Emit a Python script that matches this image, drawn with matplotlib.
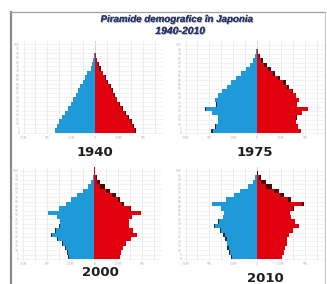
import matplotlib
matplotlib.use("Agg")
import matplotlib.pyplot as plt
import matplotlib.patheffects as pe
import numpy as np

W, H = 327, 284

# ---- data: population per 5-year age group (thousands) ----
age_groups = list(range(0, 105, 5))  # 0-4 ... 100+

male_1940 = [4200, 3990, 3780, 3470, 3150, 2840, 2520, 2310, 2000, 1790, 1580,
             1310, 1050, 790, 470, 320, 180, 84, 32, 11, 5]
female_1940 = [4310, 4100, 3890, 3570, 3260, 2990, 2630, 2360, 2050, 1840, 1630,
               1370, 1160, 890, 630, 400, 230, 105, 42, 11, 5]

male_1975 = [4830, 4410, 4100, 4100, 4730, 5460, 4310, 4410, 4100, 3680, 3150,
             2730, 2210, 1680, 1160, 740, 370, 160, 84, 21, 5]
female_1975 = [4620, 4310, 4100, 4150, 4730, 5360, 4200, 4360, 4100, 3780, 3360,
               3050, 2420, 1890, 1470, 1050, 630, 315, 126, 32, 5]

male_2000 = [2730, 2890, 3100, 3360, 3890, 4520, 4100, 3680, 3570, 3890, 4830,
             3680, 2940, 2420, 1790, 1160, 630, 315, 126, 42, 11]
female_2000 = [2630, 2780, 2990, 3260, 3780, 4410, 3990, 3620, 3570, 3890, 4830,
               3780, 3150, 2730, 2210, 1680, 1100, 630, 315, 105, 21]

male_2010 = [2730, 2940, 3100, 3200, 3310, 3520, 3890, 4520, 4100, 3570, 3470,
             3780, 4730, 3260, 2420, 1790, 950, 420, 160, 42, 11]
female_2010 = [2630, 2840, 2940, 3100, 3200, 3410, 3780, 4410, 4040, 3570, 3470,
               3890, 4940, 3570, 2840, 2310, 1580, 950, 420, 137, 21]

years = ["1940", "1975", "2000", "2010"]
x_ticks = [-7500, -5000, -2500, 0, 2500, 5000]
x_tick_labels = ["7.5M", "5M", "2.5M", "0", "2.5M", "5M"]
age_ticks = list(range(0, 105, 5))

title_line1 = "Piramide demografice în Japonia"
title_line2 = "1940-2010"

BLUE = "#1f9ad8"
RED = "#e1000e"
DBLUE = "#1b2d45"
DRED = "#4a0b0b"

# panel layout in pixels: centre x, y of age 0, label position
panels = [
    (male_1940, female_1940, 95, 132.5, (95, 152)),
    (male_1975, female_1975, 257, 133.0, (255, 152)),
    (male_2000, female_2000, 94.5, 259.0, (100, 272)),
    (male_2010, female_2010, 257, 259.0, (265, 278)),
]

XL, XR = -7800, 7100
UNIT_PER_PX = 105.0
PX_PER_YEAR = 0.88
YL, YT = -2, 104

fig = plt.figure(figsize=(W / 100, H / 100), dpi=100)
fig.patch.set_facecolor("white")


def add_px_axes(left, top, w, h):
    return fig.add_axes([left / W, 1 - (top + h) / H, w / W, h / H])


for (m, f, cx, y0, lab), yr in zip(panels, years):
    wpx = (XR - XL) / UNIT_PER_PX
    hpx = (YT - YL) * PX_PER_YEAR
    left = cx + XL / UNIT_PER_PX
    bottom = y0 - YL * PX_PER_YEAR
    ax = add_px_axes(left, bottom - hpx, wpx, hpx)
    ax.set_xlim(XL, XR)
    ax.set_ylim(YL, YT)
    for s in ax.spines.values():
        s.set_visible(False)
    ax.set_axisbelow(True)
    ax.set_xticks(np.arange(-7500, 7500, 1250), minor=True)
    ax.grid(True, which="both", axis="x", color="#e4e4e4", lw=0.5)
    ax.grid(True, which="major", axis="y", color="#ececec", lw=0.4)
    m = np.array(m, float)
    f = np.array(f, float)
    mn = np.minimum(m, f)
    ages = np.array(age_groups)
    ax.barh(ages, -m, height=5, align="edge", color=DBLUE, lw=0)
    ax.barh(ages, f, height=5, align="edge", color=DRED, lw=0)
    ax.barh(ages, -mn, height=5, align="edge", color=BLUE, lw=0)
    ax.barh(ages, mn, height=5, align="edge", color=RED, lw=0)
    ax.axvline(0, color="#999999", lw=0.5, zorder=0)
    ax.set_xticks(x_ticks)
    ax.set_xticklabels(x_tick_labels)
    ax.set_yticks(age_ticks)
    ax.set_yticklabels([str(a) for a in age_ticks])
    ax.tick_params(which="both", length=0, labelsize=2.2, colors="#b0b0b0", pad=1)
    fig.text(lab[0] / W, 1 - lab[1] / H, yr, ha="center", va="center",
             fontsize=9.5, fontweight="bold", color="#1e1e1e",
             family="DejaVu Sans")

shadow = [pe.withSimplePatchShadow(offset=(0.6, -0.6), shadow_rgbFace="#9a9a9a", alpha=0.8),
          pe.Normal()]
fig.text(177 / W, 1 - 19 / H, title_line1, ha="center", va="center",
         fontsize=7, fontweight="bold", fontstyle="italic", color="#27346c",
         family="Liberation Sans", path_effects=shadow)
fig.text(180 / W, 1 - 31 / H, title_line2, ha="center", va="center",
         fontsize=7.5, fontweight="bold", fontstyle="italic", color="#27346c",
         family="Liberation Sans", path_effects=shadow)

# outer frame
frame = fig.add_axes([0, 0, 1, 1], facecolor="none")
frame.set_xlim(0, W)
frame.set_ylim(H, 0)
frame.axis("off")
frame.plot([10.5, 10.5], [12, H], color="#8a8a8a", lw=1.6)
frame.plot([10, 325], [12, 12], color="#a0a0a0", lw=0.9)
frame.plot([325, 325], [12, H], color="#c8c8c8", lw=0.8)

fig.savefig("out.png", dpi=100, facecolor="white")
